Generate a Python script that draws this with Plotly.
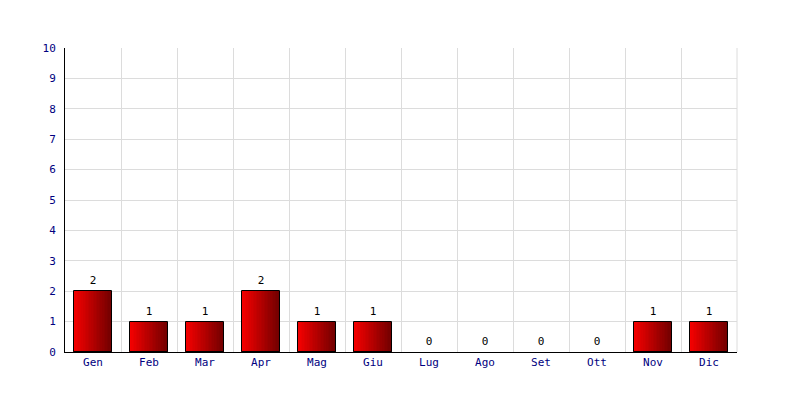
import plotly.graph_objects as go

months = ["Gen", "Feb", "Mar", "Apr", "Mag", "Giu", "Lug", "Ago", "Set", "Ott", "Nov", "Dic"]
values = [2, 1, 1, 2, 1, 1, 0, 0, 0, 0, 1, 1]

fig = go.Figure()

BAR_W = 0.68
N = 24
c0 = (245, 0, 0)
c1 = (115, 0, 0)
bar_vals = [v if v > 0 else None for v in values]
for i in range(N):
    t = i / (N - 1)
    col = "rgb(%d,%d,%d)" % tuple(round(a + (b - a) * t) for a, b in zip(c0, c1))
    fig.add_trace(go.Bar(
        x=months, y=bar_vals, width=BAR_W / N * 1.15,
        offset=-BAR_W / 2 + i * BAR_W / N,
        marker=dict(color=col, line=dict(width=0)),
        hoverinfo="skip", showlegend=False,
    ))
# outline
fig.add_trace(go.Bar(
    x=months, y=bar_vals, width=BAR_W, offset=-BAR_W / 2,
    marker=dict(color="rgba(0,0,0,0)", line=dict(color="black", width=1)),
    hoverinfo="skip", showlegend=False,
))
# value labels
fig.add_trace(go.Scatter(
    x=months, y=values, mode="markers+text", text=[str(v) for v in values],
    marker=dict(size=5, opacity=0),
    textposition="top center", textfont=dict(color="black", size=11, family="DejaVu Sans Mono"),
    hoverinfo="skip", showlegend=False, cliponaxis=False,
))

fig.update_layout(
    width=800, height=400, barmode="overlay", bargap=0,
    margin=dict(l=57, r=71, t=40, b=56),
    paper_bgcolor="white", plot_bgcolor="white",
    font=dict(family="DejaVu Sans Mono", size=11, color="#000080"),
    xaxis=dict(type="category", tickson="boundaries", showgrid=True, gridcolor="#dcdcdc",
               gridwidth=1, showline=True, linecolor="black", linewidth=1, ticks="",
               range=[-0.5, 11.5], mirror=False, zeroline=False),
    yaxis=dict(range=[0, 10], dtick=1, showgrid=True, gridcolor="#dcdcdc", gridwidth=1,
               showline=True, linecolor="black", linewidth=1, ticks="", zeroline=False,
               ticklabelstandoff=6),
)
fig.add_shape(type="line", xref="paper", yref="paper", x0=1, x1=1, y0=0, y1=1,
              line=dict(color="#dcdcdc", width=1), layer="below")

fig.write_html("out.html")
